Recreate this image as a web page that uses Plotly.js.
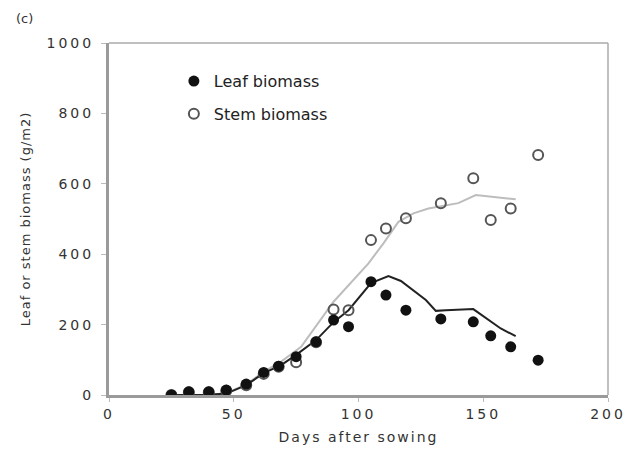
<!DOCTYPE html>
<html>
<head>
<meta charset="utf-8">
<script src="https://cdn.plot.ly/plotly-3.0.1.min.js"></script>
<style>
html,body{margin:0;padding:0;background:#fff;}
#chart{width:631px;height:476px;}
#chart .xtick text, #chart .ytick text{letter-spacing:3px;}
#chart .g-xtitle text{letter-spacing:2px;}
#chart .g-ytitle text{letter-spacing:1px;}
</style>
</head>
<body>
<div id="chart"></div>
<script>
// Observed data
const leafDays = [25, 32, 40, 47, 55, 62, 68, 75, 83, 90, 96, 105, 111, 119, 133, 146, 153, 161, 172];
const leafObs  = [0, 9, 9, 14, 31, 64, 82, 109, 151, 213, 194, 322, 284, 241, 216, 208, 168, 137, 99];
const stemDays = [25, 32, 40, 47, 55, 62, 68, 75, 83, 90, 96, 105, 111, 119, 133, 146, 153, 161, 172];
const stemObs  = [0, 8, 8, 12, 28, 60, 80, 93, 150, 243, 241, 440, 473, 502, 545, 616, 497, 530, 682];
// Simulated lines
const leafSimDays = [25, 40, 47, 55, 62, 69, 75, 83, 90, 96, 105, 112, 117, 122, 127, 131, 135, 146, 151, 157, 163];
const leafSim     = [0, 1, 4, 28, 62, 85, 114, 156, 207, 241, 318, 338, 324, 298, 270, 239, 241, 244, 220, 189, 167];
const stemSimDays = [25, 40, 47, 55, 62, 69, 77, 90, 104, 110, 116, 122, 128, 136, 140, 147, 159, 163];
const stemSim     = [0, 1, 5, 30, 66, 95, 137, 265, 374, 431, 492, 516, 530, 540, 545, 568, 558, 556];

const fam = 'DejaVu Sans, Liberation Sans, Arial, sans-serif';
const font = {family: fam, color: '#333', size: 13};

const traces = [
  {x: stemSimDays, y: stemSim, mode: 'lines', line: {color: '#bdbdbd', width: 2}, showlegend: false, hoverinfo: 'skip'},
  {x: leafSimDays, y: leafSim, mode: 'lines', line: {color: '#222', width: 2}, showlegend: false, hoverinfo: 'skip'},
  {x: stemDays, y: stemObs, mode: 'markers', name: 'Stem biomass', legendgroup: 'b', legendrank: 2,
   marker: {symbol: 'circle-open', size: 10, color: '#555', line: {color: '#555', width: 2}}},
  {x: leafDays, y: leafObs, mode: 'markers', name: 'Leaf biomass', legendgroup: 'a', legendrank: 1,
   marker: {symbol: 'circle', size: 11, color: '#111'}}
];

const layout = {
  width: 631, height: 476,
  margin: {l: 109, r: 23, t: 43, b: 81},
  paper_bgcolor: '#fff', plot_bgcolor: '#fff',
  font: font,
  showlegend: true,
  legend: {x: 0.13, y: 0.94, xanchor: 'left', yanchor: 'top', traceorder: 'grouped',
           font: {family: fam, size: 16, color: '#222'},
           bgcolor: 'rgba(0,0,0,0)', itemwidth: 30, tracegroupgap: 9},
  xaxis: {range: [0, 200], tickvals: [0, 50, 100, 150, 200], showgrid: false, zeroline: false,
          showline: true, linecolor: '#9a9a9a', linewidth: 3, mirror: false,
          ticks: 'outside', ticklen: 4, tickcolor: '#bbb', tickfont: {family: fam, size: 14, color: '#333'},
          title: {text: 'Days after sowing', font: {family: fam, size: 14, color: '#333'}, standoff: 12}},
  yaxis: {range: [0, 1000], tickvals: [0, 200, 400, 600, 800, 1000], showgrid: false, zeroline: false,
          showline: true, linecolor: '#9a9a9a', linewidth: 3, ticklabelstandoff: 4,
          ticks: 'outside', ticklen: 5, tickcolor: '#bbb', tickfont: {family: fam, size: 14, color: '#333'},
          title: {text: 'Leaf or stem biomass (g/m2)', font: {family: fam, size: 13, color: '#333'}, standoff: 26}},
  shapes: [
    {type: 'line', xref: 'paper', yref: 'paper', x0: 0, x1: 1, y0: 1, y1: 1, line: {color: '#aaa', width: 1.5}},
    {type: 'line', xref: 'paper', yref: 'paper', x0: 1, x1: 1, y0: 0, y1: 1, line: {color: '#aaa', width: 1.5}}
  ],
  annotations: [
    {text: '(c)', xref: 'paper', yref: 'paper', x: -0.19, y: 1.071, xanchor: 'left', yanchor: 'middle',
     showarrow: false, font: {family: fam, size: 13, color: '#333'}}
  ]
};

Plotly.newPlot('chart', traces, layout, {displayModeBar: false, staticPlot: true});
</script>
</body>
</html>
